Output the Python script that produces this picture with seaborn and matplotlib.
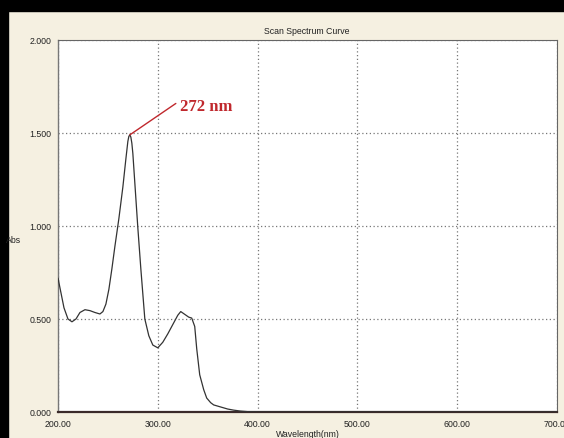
import matplotlib
matplotlib.use("Agg")
import matplotlib.pyplot as plt
from matplotlib.patches import Rectangle
import seaborn as sns
import pandas as pd

wavelength = [200, 203, 206, 210, 214, 218, 222, 227, 232, 237, 242, 245, 248, 251,
              254, 257, 261, 265, 268, 270, 271, 272, 273, 274, 275, 277, 280, 283, 287, 291,
              295, 300, 305, 310, 315, 320, 323, 327, 331, 334, 337, 339, 342, 346,
              349, 353, 356, 363, 370, 376, 383, 390, 400, 450, 500, 550, 600, 650, 700]
absorbance = [0.72, 0.64, 0.56, 0.50, 0.485, 0.50, 0.535, 0.55, 0.545, 0.535, 0.527, 0.54,
              0.58, 0.66, 0.77, 0.89, 1.04, 1.21, 1.36, 1.455, 1.482, 1.49, 1.478, 1.445,
              1.39, 1.23, 0.99, 0.77, 0.50, 0.41, 0.36, 0.345, 0.375, 0.42, 0.47, 0.52,
              0.54, 0.525, 0.51, 0.505, 0.46, 0.34, 0.20, 0.12, 0.075, 0.05, 0.038, 0.027,
              0.016, 0.01, 0.005, 0.002, 0.0, 0.0, 0.0, 0.0, 0.0, 0.0, 0.0]
x_ticks = [200, 300, 400, 500, 600, 700]
x_tick_labels = ["200.00", "300.00", "400.00", "500.00", "600.00", "700.00"]
y_ticks = [0.0, 0.5, 1.0, 1.5, 2.0]
y_tick_labels = ["0.000", "0.500", "1.000", "1.500", "2.000"]
peak_wl = 272
peak_abs = 1.49
peak_label = "272 nm"

df = pd.DataFrame({"Wavelength": wavelength, "Abs": absorbance})

sns.set_style("white")
plt.rcParams["font.family"] = ["Liberation Sans", "DejaVu Sans"]

W, H = 564, 439
fig = plt.figure(figsize=(W / 100, H / 100), dpi=100, facecolor="#f5f0e1")
ax = fig.add_axes([58 / W, (H - 413) / H, (557 - 58) / W, (413 - 41) / H])
ax.set_facecolor("white")

# black frame strips
fig.patches.append(Rectangle((0, 1 - 12 / H), 1, 12 / H, transform=fig.transFigure,
                             color="black", zorder=0))
fig.patches.append(Rectangle((0, 0), 8 / W, 1, transform=fig.transFigure,
                             color="black", zorder=0))

sns.lineplot(data=df, x="Wavelength", y="Abs", ax=ax, color="#333333", lw=0.9, zorder=3)

ax.set_xlim(200, 700)
ax.set_ylim(0, 2.0)
ax.set_xticks(x_ticks)
ax.set_xticklabels(x_tick_labels)
ax.set_yticks(y_ticks)
ax.set_yticklabels(y_tick_labels)
ax.tick_params(axis="both", length=0, labelsize=6.3, labelcolor="#222222")
ax.tick_params(axis="x", pad=5)
ax.tick_params(axis="y", pad=5)

ax.grid(True, color="#777777", linestyle=(0, (1, 2)), lw=0.9)
for lbl in ax.get_xticklabels():
    lbl.set_clip_on(False)

for side in ["top", "right"]:
    ax.spines[side].set_color("#666666")
    ax.spines[side].set_linewidth(0.8)
ax.spines["left"].set_color("#777777")
ax.spines["left"].set_linewidth(1.0)
ax.spines["bottom"].set_color("#3a2a2a")
ax.spines["bottom"].set_linewidth(1.6)

ax.set_xlabel("Wavelength(nm)", fontsize=6.3, color="#222222", labelpad=1)
ax.set_ylabel("")
fig.text(14 / W, 1 - 241 / H, "Abs", fontsize=6.3, color="#222222", ha="center", va="center")
fig.text(307 / W, 1 - 32 / H, "Scan Spectrum Curve", fontsize=6.3, color="#222222",
         ha="center", va="center")

ax.annotate(peak_label, xy=(peak_wl, peak_abs), xytext=(322.5, 1.645),
            fontsize=12, fontweight="bold", color="#c0282d",
            family=["Liberation Serif", "DejaVu Serif"], ha="left", va="center",
            arrowprops=dict(arrowstyle="-", color="#c0282d", lw=1.0,
                            shrinkA=1, shrinkB=0, relpos=(0, 0.85)))

fig.savefig("out.png", dpi=100, facecolor=fig.get_facecolor())
